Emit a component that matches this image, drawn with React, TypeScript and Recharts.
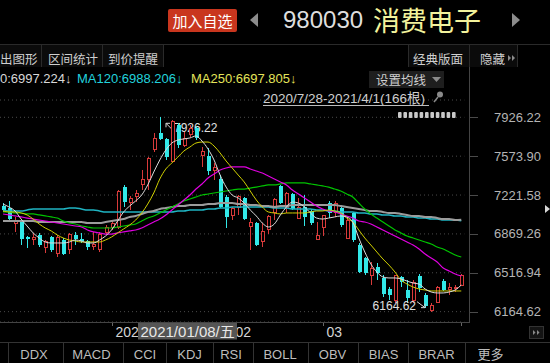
import { ComposedChart, Bar, Line, XAxis, YAxis, CartesianGrid } from "recharts";

// daily candles, 2020/12/08 .. 2021/04/01
const opens = [
  7122, 7104, 6968, 6986, 6841, 6823, 6859, 6742, 6841, 6696,
  6814, 6732, 6859, 6823, 6805, 6751, 6732, 6878, 6923, 6923,
  7294, 7158, 7204, 7313, 7358, 7630, 7784, 7730, 7530, 7856,
  7675, 7766, 7829, 7584, 7575, 7448, 7367, 7204, 7032, 7113,
  7195, 6932, 6968, 6796, 6905, 7059, 7304, 7113, 7231, 7013,
  7113, 7077, 6823, 6923, 7149, 7059, 7104, 6832, 7059, 6769,
  6651, 6488, 6569, 6470, 6370, 6270, 6479, 6361, 6270, 6488,
  6316, 6171, 6252, 6442, 6361, 6370, 6406,
];
const highs = [
  7149, 7168, 7023, 6995, 6850, 6878, 6878, 6814, 6850, 6859,
  6832, 6878, 6887, 6878, 6814, 6887, 6887, 6950, 6986, 7267,
  7313, 7213, 7267, 7448, 7566, 7784, 7926.22, 7739, 7902, 7875,
  7793, 7856, 7847, 7657, 7648, 7512, 7403, 7222, 7113, 7222,
  7204, 7013, 6977, 6968, 7041, 7195, 7313, 7249, 7240, 7195,
  7222, 7095, 6977, 7041, 7168, 7168, 7122, 7023, 7068, 6787,
  6660, 6615, 6606, 6497, 6388, 6497, 6488, 6451, 6451, 6506,
  6334, 6243, 6397, 6461, 6424, 6406, 6506,
];
const lows = [
  7068, 6995, 6887, 6769, 6742, 6769, 6751, 6696, 6705, 6660,
  6678, 6687, 6769, 6787, 6723, 6723, 6705, 6859, 6905, 6914,
  7113, 7086, 7158, 7267, 7267, 7612, 7720, 7539, 7521, 7648,
  7657, 7748, 7720, 7476, 7403, 7358, 7104, 6923, 6995, 7041,
  6995, 6723, 6760, 6751, 6868, 6995, 7140, 7059, 7086, 7004,
  6941, 6950, 6814, 6850, 7013, 7023, 6932, 6823, 6796, 6515,
  6497, 6406, 6451, 6297, 6270, 6243, 6388, 6243, 6243, 6343,
  6198, 6164.62, 6243, 6352, 6316, 6343, 6397,
];
const closes = [
  7086, 7004, 6986, 6823, 6823, 6841, 6769, 6796, 6723, 6841,
  6687, 6868, 6823, 6805, 6751, 6769, 6868, 6923, 6968, 7258,
  7158, 7186, 7240, 7358, 7557, 7730, 7730, 7566, 7884, 7675,
  7730, 7829, 7739, 7612, 7439, 7467, 7113, 7023, 7104, 7204,
  7004, 6977, 6769, 6887, 7023, 7177, 7149, 7240, 7095, 7113,
  7023, 6968, 6859, 7032, 7059, 7149, 6950, 6995, 6814, 6524,
  6515, 6560, 6515, 6325, 6316, 6488, 6433, 6288, 6433, 6379,
  6216, 6216, 6388, 6361, 6388, 6388, 6488,
];

const ma5 = [
  7140, 7113, 7077, 7004, 6941, 6878, 6832, 6796, 6787, 6787,
  6787, 6796, 6814, 6805, 6787, 6787, 6814, 6850, 6905, 6986,
  7068, 7122, 7168, 7222, 7313, 7430, 7539, 7630, 7693, 7720,
  7730, 7739, 7757, 7711, 7639, 7539, 7403, 7294, 7222, 7195,
  7149, 7086, 7032, 6968, 6932, 6959, 7041, 7113, 7158, 7149,
  7113, 7059, 7013, 7004, 7013, 7023, 7032, 7023, 6977, 6832,
  6705, 6597, 6524, 6479, 6470, 6470, 6461, 6442, 6424, 6415,
  6370, 6343, 6334, 6334, 6343, 6361, 6406,
];
const ma10 = [
  7077, 7068, 7068, 7059, 7041, 7004, 6959, 6923, 6896, 6859,
  6832, 6814, 6805, 6796, 6796, 6796, 6796, 6814, 6841, 6878,
  6914, 6950, 6995, 7059, 7140, 7240, 7367, 7458, 7512, 7566,
  7621, 7657, 7693, 7702, 7702, 7666, 7603, 7530, 7467, 7403,
  7340, 7258, 7177, 7113, 7068, 7059, 7050, 7059, 7059, 7059,
  7059, 7068, 7077, 7077, 7086, 7077, 7059, 7013, 6977, 6905,
  6832, 6769, 6705, 6642, 6587, 6524, 6451, 6415, 6388, 6370,
  6361, 6352, 6352, 6352, 6352, 6352, 6352,
];
const ma20 = [
  7050, 7041, 7032, 7023, 7013, 7004, 6995, 6986, 6977, 6968,
  6959, 6950, 6941, 6932, 6905, 6887, 6878, 6868, 6868, 6878,
  6887, 6896, 6905, 6923, 6950, 6977, 7004, 7041, 7086, 7131,
  7177, 7222, 7276, 7322, 7376, 7412, 7448, 7467, 7476, 7476,
  7476, 7458, 7439, 7421, 7394, 7367, 7340, 7313, 7267, 7231,
  7195, 7158, 7122, 7095, 7077, 7068, 7050, 7032, 7013, 6986,
  6977, 6959, 6932, 6905, 6878, 6850, 6823, 6796, 6769, 6732,
  6687, 6651, 6615, 6560, 6533, 6506, 6488,
];
const ma30 = [
  7068, 7068, 7059, 7059, 7050, 7050, 7041, 7032, 7023, 7013,
  6986, 6968, 6959, 6941, 6932, 6923, 6923, 6923, 6923, 6932,
  6941, 6950, 6959, 6986, 7013, 7032, 7059, 7086, 7113, 7140,
  7168, 7186, 7204, 7222, 7231, 7240, 7249, 7258, 7267, 7276,
  7276, 7285, 7294, 7304, 7313, 7313, 7322, 7331, 7331, 7331,
  7331, 7322, 7313, 7304, 7294, 7276, 7258, 7231, 7204, 7149,
  7095, 7050, 7013, 6977, 6941, 6905, 6878, 6850, 6832, 6814,
  6796, 6778, 6751, 6732, 6705, 6678, 6660,
];
const ma60 = [
  6986, 6986, 6986, 6986, 6986, 6986, 6977, 6977, 6977, 6977,
  6977, 6977, 6977, 6977, 6968, 6968, 6968, 6977, 6986, 6995,
  7004, 7023, 7032, 7050, 7068, 7077, 7095, 7104, 7113, 7122,
  7122, 7131, 7131, 7131, 7140, 7140, 7149, 7149, 7149, 7140,
  7140, 7131, 7131, 7122, 7122, 7113, 7122, 7122, 7131, 7131,
  7131, 7131, 7131, 7131, 7131, 7131, 7122, 7113, 7104, 7095,
  7086, 7077, 7077, 7068, 7059, 7059, 7050, 7041, 7032, 7032,
  7023, 7023, 7013, 7004, 7004, 6995, 6997.224,
];
const ma120 = [
  7086, 7077, 7077, 7077, 7086, 7095, 7095, 7095, 7095, 7095,
  7095, 7104, 7104, 7095, 7086, 7086, 7077, 7068, 7068, 7068,
  7068, 7068, 7068, 7068, 7068, 7068, 7068, 7068, 7068, 7077,
  7077, 7086, 7086, 7086, 7095, 7095, 7104, 7104, 7113, 7113,
  7113, 7113, 7113, 7113, 7113, 7104, 7104, 7104, 7095, 7095,
  7095, 7095, 7086, 7086, 7077, 7077, 7068, 7068, 7068, 7059,
  7059, 7050, 7050, 7041, 7041, 7032, 7032, 7023, 7023, 7013,
  7013, 7004, 7004, 6995, 6995, 6995, 6988.206,
];

const priceTicks = [6164.62, 6516.94, 6869.26, 7221.58, 7573.9, 7926.22];
const priceDomain = [6070.8, 8083.0];
const monthTicks = [18, 38, 53, 76];
const monthLabels = ["2021", "02", "03", ""];
const tabs = ["DDX", "MACD", "CCI", "KDJ", "RSI", "BOLL", "OBV", "BIAS", "BRAR", "更多"];

const data = opens.map((o, i) => ({
  i,
  o,
  h: highs[i],
  l: lows[i],
  c: closes[i],
  range: [lows[i], highs[i]],
  ma5: ma5[i],
  ma10: ma10[i],
  ma20: ma20[i],
  ma30: ma30[i],
  ma60: ma60[i],
  ma120: ma120[i],
}));

const hiIdx = highs.indexOf(Math.max(...highs));
const loIdx = lows.indexOf(Math.min(...lows));

const FONT = "'Liberation Sans', Arial, 'Noto Sans CJK SC', sans-serif";
const RED = "#d83a3a";
const CYAN = "#32e8e8";
const PLOT_BOTTOM = 322;

function Candle(props: any) {
  const { x, y, width, height, payload } = props;
  if (!payload) return null;
  const top = Math.min(y, y + height);
  const bot = Math.max(y, y + height);
  const span = payload.h - payload.l || 1;
  const py = (v: number) => top + ((payload.h - v) / span) * (bot - top);
  const cx = Math.round(x + width / 2);
  const up = payload.c >= payload.o;
  const bTop = py(Math.max(payload.o, payload.c));
  const bBot = py(Math.min(payload.o, payload.c));
  const bh = Math.max(bBot - bTop, 1);
  return (
    <g shapeRendering="crispEdges">
      {up ? (
        <>
          <line x1={cx + 0.5} x2={cx + 0.5} y1={top} y2={bTop} stroke={RED} />
          <line x1={cx + 0.5} x2={cx + 0.5} y1={bTop + bh} y2={bot} stroke={RED} />
          <rect x={cx - 0.5} y={bTop} width={3} height={bh} fill="#000" stroke={RED} />
        </>
      ) : (
        <>
          <line x1={cx + 0.5} x2={cx + 0.5} y1={top} y2={bot} stroke={CYAN} />
          <rect x={cx - 1} y={bTop} width={4} height={bh} fill={CYAN} />
        </>
      )}
      {payload.i === hiIdx && (
        <g shapeRendering="auto">
          <path
            d={`M${cx + 13},${top + 13} L${cx + 6},${top + 6} M${cx + 6},${top + 6} l0,4 M${cx + 6},${top + 6} l4,0`}
            stroke="#d8d8d8"
            fill="none"
          />
          <text x={cx + 14} y={top + 15} fontSize={12} fill="#e0e0e0" fontFamily={FONT}>
            {payload.h.toFixed(2)}
          </text>
        </g>
      )}
      {payload.i === loIdx && (
        <g shapeRendering="auto">
          <path
            d={`M${cx - 14},${bot - 10} L${cx - 6},${bot - 4} M${cx - 6},${bot - 4} l-4,0 M${cx - 6},${bot - 4} l0,-4`}
            stroke="#d8d8d8"
            fill="none"
          />
          <text x={cx - 15} y={bot - 2} textAnchor="end" fontSize={12} fill="#e0e0e0" fontFamily={FONT}>
            {payload.l.toFixed(2)}
          </text>
        </g>
      )}
    </g>
  );
}

function PriceTick(props: any) {
  const { y, payload } = props;
  const py = Math.round(y) + 0.5;
  return (
    <g>
      <line x1={470} x2={478} y1={py} y2={py} stroke="#4a4a4a" />
      <text x={541} y={y + 4.5} textAnchor="end" fontSize={13} fill="#b4b4b4" fontFamily={FONT}>
        {Number(payload.value).toFixed(2)}
      </text>
    </g>
  );
}

function MonthTick(props: any) {
  const { x, payload } = props;
  const k = monthTicks.indexOf(payload.value);
  const label = monthLabels[k] ?? "";
  const px = Math.round(x) + 0.5;
  return (
    <g>
      <line x1={px} x2={px} y1={PLOT_BOTTOM} y2={PLOT_BOTTOM + 4} stroke="#666" />
      {label && (
        <text x={px + 3} y={336.5} fontSize={14} fill="#d4d4d4" fontFamily={FONT}>
          {label}
        </text>
      )}
    </g>
  );
}

const tabSeps = [8, 63, 123, 166, 213, 253, 308, 358, 408, 465];
const tabCenters = [34, 91.5, 145, 189.5, 231, 280, 332.5, 383.5, 436.5, 490.5];

function Overlay() {
  return (
    <svg
      width={550}
      height={363}
      style={{ position: "absolute", left: 0, top: 0, pointerEvents: "none" }}
      fontFamily={FONT}
    >
      {/* title bar */}
      <rect x={168} y={9} width={69} height={23} rx={2} fill="#c9361e" />
      <text x={202.5} y={26.5} textAnchor="middle" fontSize={15} fill="#fff">加入自选</text>
      <polygon points="258,13 258,27 250,20" fill="#8c8c8c" />
      <text x={283} y={28} fontSize={24} fill="#dedede">980030</text>
      <text x={373} y={31} fontSize={27} fill="#f2f29c">消费电子</text>
      <polygon points="512,13 512,27 520,20" fill="#8c8c8c" />

      {/* toolbar */}
      {[[0, 41], [42, 102], [103, 163], [409, 469], [470, 517]].map(([a, b]) => (
        <rect key={a} x={a} y={45} width={b - a} height={22} fill="#0b0b0b" />
      ))}
      <line x1={0} x2={550} y1={44.5} y2={44.5} stroke="#2a2a2a" />
      {[41, 102, 163, 408, 469, 517].map((sx) => (
        <line key={sx} x1={sx + 0.5} x2={sx + 0.5} y1={45} y2={67} stroke="#2a2a2a" />
      ))}
      <text x={0} y={64} fontSize={12.5} fill="#cfcfcf">出图形</text>
      <text x={48} y={64} fontSize={12.5} fill="#cfcfcf">区间统计</text>
      <text x={108} y={64} fontSize={12.5} fill="#cfcfcf">到价提醒</text>
      <text x={413} y={64} fontSize={12.5} fill="#cfcfcf">经典版面</text>
      <text x={480} y={64} fontSize={12.5} fill="#cfcfcf">隐藏</text>
      <polygon points="508,55 508,61 511,58" fill="#8c8c8c" />
      <polygon points="512,55 512,61 515,58" fill="#8c8c8c" />

      {/* moving average legend */}
      <text x={0} y={82.5} fontSize={13} fill="#d8d8d8">0:6997.224↓</text>
      <text x={77} y={82.5} fontSize={13} fill="#22d2dc">MA120:6988.206↓</text>
      <text x={191} y={82.5} fontSize={13} fill="#e4e45a">MA250:6697.805↓</text>
      <rect x={369} y={71} width={75} height={17} fill="#1e1e1e" />
      <text x={376} y={85} fontSize={12.5} fill="#cfcfcf">设置均线</text>
      <polygon points="432,77 441,77 436.5,82" fill="#8a8a8a" />

      {/* interval */}
      <text x={263} y={103} fontSize={13.5} fill="#cfcfcf">2020/7/28-2021/4/1(166根)</text>
      <line x1={263} x2={429} y1={105.5} y2={105.5} stroke="#bdbdbd" />
      <circle cx={440} cy={94.5} r={3} fill="#8a8a8a" />
      <line x1={438} x2={434} y1={97} y2={102} stroke="#8a8a8a" strokeWidth={1.5} />
      {Array.from({ length: 11 }).map((_, k) => (
        <rect key={k} x={398 + k * 5.4} y={112} width={3.6} height={6} rx={1} fill="#c8c8c8" />
      ))}

      {/* frame */}
      <line x1={469.5} x2={469.5} y1={67} y2={PLOT_BOTTOM + 0.5} stroke="#444" />
      <line x1={0} x2={470} y1={PLOT_BOTTOM + 0.5} y2={PLOT_BOTTOM + 0.5} stroke="#444" />
      <polygon points="545,205 545,213 550,209" fill="#d8d8d8" />

      {/* crosshair date */}
      <rect x={138} y={323} width={99} height={16.5} fill="#555" />
      <text x={140.5} y={336.5} fontSize={15} fill="#e8e8e8">2021/01/08/五</text>

      <rect x={529.5} y={326.5} width={14} height={12} fill="#141414" stroke="#333" />
      <polygon points="533,330 533,335 535.5,332.5" fill="#8a8a8a" />
      <polygon points="537,330 537,335 539.5,332.5" fill="#8a8a8a" />

      {/* indicator tabs */}
      <line x1={0} x2={550} y1={342.5} y2={342.5} stroke="#333" />
      {tabSeps.map((sx) => (
        <line key={sx} x1={sx + 0.5} x2={sx + 0.5} y1={343} y2={363} stroke="#333" />
      ))}
      {tabs.map((t, k) => (
        <text key={t} x={tabCenters[k]} y={358.5} textAnchor="middle" fontSize={13} fill="#bdbdbd">
          {t}
        </text>
      ))}
    </svg>
  );
}

export default function App() {
  return (
    <div
      style={{
        position: "absolute",
        left: 0,
        top: 0,
        width: 550,
        height: 363,
        background: "#000",
        overflow: "hidden",
      }}
    >
      <ComposedChart
        width={550}
        height={363}
        data={data}
        margin={{ top: 100, right: 5.7, bottom: 21, left: 0 }}
      >
        <CartesianGrid vertical={false} stroke="#4a4a4a" strokeDasharray="1 3" />
        <XAxis
          dataKey="i"
          type="category"
          ticks={monthTicks}
          interval={0}
          height={20}
          axisLine={false}
          tickLine={false}
          tick={<MonthTick />}
        />
        <YAxis
          orientation="right"
          width={80}
          domain={priceDomain}
          ticks={priceTicks}
          interval={0}
          allowDataOverflow
          axisLine={false}
          tickLine={false}
          tick={<PriceTick />}
        />
        <Bar dataKey="range" barSize={4} shape={(p: any) => <Candle {...p} />} isAnimationActive={false} />
        <Line dataKey="ma120" type="monotone" stroke="#1fb4c2" strokeWidth={1.5} dot={false} activeDot={false} isAnimationActive={false} />
        <Line dataKey="ma60" type="monotone" stroke="#9c9c9c" strokeWidth={2} dot={false} activeDot={false} isAnimationActive={false} />
        <Line dataKey="ma30" type="monotone" stroke="#00c400" strokeWidth={1.2} dot={false} activeDot={false} isAnimationActive={false} />
        <Line dataKey="ma20" type="monotone" stroke="#e000e0" strokeWidth={1.2} dot={false} activeDot={false} isAnimationActive={false} />
        <Line dataKey="ma10" type="monotone" stroke="#d0d000" strokeWidth={1} dot={false} activeDot={false} isAnimationActive={false} />
        <Line dataKey="ma5" type="monotone" stroke="#dcdcdc" strokeWidth={1} dot={false} activeDot={false} isAnimationActive={false} />
      </ComposedChart>
      <Overlay />
    </div>
  );
}
